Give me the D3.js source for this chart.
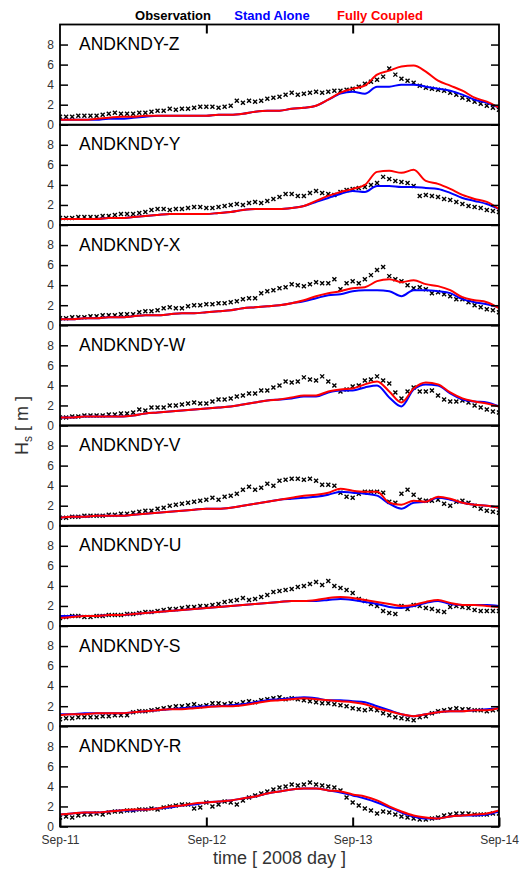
<!DOCTYPE html>
<html>
<head>
<meta charset="utf-8">
<script src="https://cdn.jsdelivr.net/npm/d3@7"></script>
<style>
  body { margin: 0; background: #fff; }
  text { font-family: "Liberation Sans", Arial, sans-serif; }
</style>
</head>
<body>
<div id="chart"></div>
<script>
// stations, top to bottom
const stations = ["Z", "Y", "X", "W", "V", "U", "S", "R"];
const yTicks = [0, 2, 4, 6, 8];
const xTickLabels = ["Sep-11", "Sep-12", "Sep-13", "Sep-14"];
const legendNames = ["Observation", "Stand Alone", "Fully Coupled"];

// observations: hourly, from Sep-11 00:00 to Sep-14 00:00
const obs_Z = [0.8,0.8,0.8,0.9,0.9,0.9, 0.9,1.0,1.1,1.2,1.1,1.1, 1.1,1.2,1.2,1.3,1.4,1.4, 1.6,1.5,1.6,1.6,1.7,1.8,
  1.8,1.8,1.7,1.8,1.9,2.4, 2.2,2.4,2.3,2.4,2.6,2.7, 2.8,3.0,3.2,3.0,3.1,3.2, 3.3,3.2,3.3,3.4,3.4,3.5,
  3.6,3.8,4.1,4.3,4.5,4.8, 5.6,5.0,4.6,4.4,4.2,3.9, 3.7,3.6,3.5,3.4,3.2,3.0, 2.7,2.5,2.3,2.1,1.9,1.7,1.5];
const obs_Y = [0.7,0.7,0.7,0.8,0.8,0.8, 0.8,0.9,0.9,1.0,1.1,1.1, 1.1,1.2,1.3,1.5,1.6,1.6, 1.5,1.6,1.6,1.7,1.8,1.8,
  1.7,1.7,1.8,1.9,2.0,2.1, 2.0,2.2,2.3,2.2,2.4,2.6, 2.8,3.1,3.1,2.9,2.9,3.2, 3.4,3.2,3.1,3.0,3.3,3.5,
  3.6,3.7,3.8,4.0,4.2,4.8, 4.6,4.4,4.3,4.2,3.9,2.9, 3.0,2.9,2.8,2.6,2.5,2.3, 2.1,1.9,1.8,1.7,1.5,1.4,1.3];
const obs_X = [0.7,0.7,0.8,0.8,0.8,0.9, 0.9,1.0,1.0,1.0,1.1,1.1, 1.1,1.3,1.4,1.4,1.5,1.7, 1.8,1.7,1.7,1.9,2.0,2.0,
  2.1,2.1,2.2,2.2,2.3,2.4, 2.6,2.7,2.7,3.2,3.4,3.5, 3.7,3.8,4.1,4.0,3.9,4.1, 4.3,4.2,4.2,4.6,3.6,4.2,
  4.4,4.2,4.6,5.0,5.5,5.8, 4.9,4.6,4.4,4.0,3.7,3.8, 3.6,3.2,3.3,3.1,2.9,2.6, 2.6,2.3,2.0,1.8,1.6,1.5,1.3];
const obs_W = [0.8,0.8,0.9,0.9,1.0,1.0, 1.0,1.0,1.1,1.1,1.2,1.2, 1.3,1.6,1.5,1.8,1.8,1.8, 2.0,2.0,2.1,2.2,2.3,2.2,
  2.2,2.4,2.6,2.6,2.7,2.9, 3.0,3.2,3.2,3.5,3.5,3.8, 4.0,4.4,4.3,4.4,4.8,4.6, 4.5,4.9,4.4,4.0,3.4,3.6,
  3.9,4.0,4.5,4.6,4.9,4.5, 4.2,3.3,2.7,3.4,3.8,3.4, 3.4,3.5,3.0,2.6,2.4,2.4, 2.5,2.3,2.0,1.8,1.6,1.4,1.3];
const obs_V = [0.8,0.8,0.9,0.9,1.0,1.0, 1.0,1.0,1.1,1.1,1.2,1.2, 1.3,1.4,1.5,1.5,1.7,1.8, 2.0,2.1,2.2,2.3,2.4,2.5,
  2.6,2.8,2.6,2.9,3.0,3.2, 3.6,3.9,3.6,3.8,4.2,4.0, 4.5,4.6,4.7,4.7,4.6,4.7, 4.5,4.1,4.1,4.0,3.3,2.9,
  2.8,3.2,3.4,3.4,3.4,3.3, 2.4,2.3,3.2,3.6,3.1,2.6, 2.5,2.5,2.6,2.2,2.0,2.4, 2.5,2.3,2.0,1.7,1.5,1.4,1.3];
const obs_U = [0.8,0.9,1.0,1.0,0.9,0.9, 1.0,1.0,1.1,1.1,1.1,1.2, 1.2,1.3,1.4,1.4,1.5,1.6, 1.7,1.7,1.8,1.9,1.9,2.0,
  2.0,2.1,2.2,2.4,2.5,2.6, 2.8,2.6,2.7,2.9,3.1,3.4, 3.5,3.6,3.7,3.9,4.0,4.2, 4.4,4.1,4.5,4.0,3.8,3.6,
  3.3,2.7,2.5,2.2,2.0,1.5, 1.3,1.2,2.0,1.7,2.1,2.0, 1.8,1.7,1.5,1.4,1.9,2.0, 1.9,1.8,1.6,1.5,1.5,1.5,1.5];
const obs_S = [0.7,0.8,0.8,0.9,0.9,0.9, 0.9,1.0,1.0,1.1,1.1,1.1, 1.4,1.5,1.5,1.6,1.7,1.8, 1.9,2.0,2.0,2.1,2.2,2.0,
  2.1,2.3,2.3,2.2,2.3,2.2, 2.4,2.5,2.4,2.6,2.7,2.8, 2.9,2.7,2.8,2.7,2.6,2.5, 2.4,2.3,2.3,2.2,2.1,2.0,
  1.8,1.7,1.6,1.7,1.6,1.3, 1.1,0.9,0.8,0.7,0.6,0.9, 1.0,1.3,1.5,1.6,1.7,1.8, 1.7,1.7,1.6,1.6,1.5,1.6,1.7];
const obs_R = [0.9,1.0,0.9,1.1,1.2,1.2, 1.3,1.2,1.4,1.5,1.5,1.6, 1.6,1.7,1.7,1.8,1.7,1.9, 2.0,2.1,2.2,2.2,1.8,1.9,
  2.4,2.0,2.2,2.5,2.4,2.2, 2.6,2.9,3.1,3.3,3.5,3.7, 3.9,4.0,4.2,4.1,4.2,4.4, 4.2,4.1,4.0,3.9,3.6,2.9,
  2.4,2.1,1.8,1.6,1.3,1.5, 1.4,1.2,1.0,0.9,0.8,0.7, 0.7,0.8,0.9,1.1,1.2,1.3, 1.3,1.3,1.2,1.2,1.2,1.3,1.3];

// model output: every 2 hours
const stand_Z = [0.5,0.5,0.5,0.5,0.6,0.6,0.7,0.8,0.9,0.9,0.9,0.9,0.9,1.0,1.0,1.1,1.3,1.4,1.4,1.6,1.7,1.9,2.5,3.1,3.3,3.1,3.8,3.8,4.0,4.0,3.8,3.6,3.4,3.0,2.5,2.2,1.7];
const full_Z  = [0.5,0.5,0.5,0.6,0.7,0.8,0.8,0.9,0.9,0.9,0.9,0.9,0.9,1.0,1.0,1.1,1.3,1.4,1.4,1.6,1.7,1.9,2.5,3.2,3.6,3.9,5.0,5.4,5.8,5.9,5.3,4.4,3.9,3.4,2.7,2.3,1.7];
const stand_Y = [0.6,0.6,0.6,0.6,0.7,0.7,0.8,0.9,1.0,1.1,1.1,1.1,1.1,1.2,1.3,1.5,1.6,1.6,1.6,1.7,1.9,2.3,2.7,3.1,3.4,3.3,3.9,3.9,3.8,3.8,3.7,3.6,3.2,2.7,2.4,2.1,1.6];
const full_Y  = [0.6,0.6,0.6,0.6,0.7,0.7,0.8,0.9,1.0,1.1,1.1,1.1,1.1,1.2,1.3,1.5,1.6,1.6,1.6,1.7,1.9,2.4,2.9,3.3,3.6,4.0,5.3,5.4,5.2,5.5,4.4,4.1,3.6,3.0,2.6,2.3,1.6];
const stand_X = [0.6,0.6,0.7,0.7,0.8,0.8,0.9,1.0,1.0,1.1,1.2,1.2,1.3,1.4,1.5,1.7,1.8,1.9,2.0,2.2,2.4,2.7,3.0,3.1,3.4,3.5,3.5,3.4,2.9,3.5,3.5,3.4,3.2,2.6,2.3,2.1,1.8];
const full_X  = [0.6,0.6,0.7,0.7,0.8,0.8,0.9,1.0,1.0,1.1,1.2,1.2,1.3,1.4,1.5,1.7,1.8,1.9,2.0,2.2,2.5,2.9,3.2,3.4,3.7,3.8,4.4,4.6,4.3,4.5,4.1,3.9,3.5,2.8,2.5,2.3,1.7];
const stand_W = [0.8,0.8,0.9,0.9,0.9,0.9,1.0,1.2,1.3,1.4,1.5,1.6,1.7,1.8,1.9,2.1,2.3,2.5,2.6,2.7,2.9,2.9,3.3,3.5,3.5,3.8,4.0,2.8,1.9,3.6,4.1,4.0,3.2,2.6,2.4,2.3,1.9];
const full_W  = [0.8,0.8,0.9,0.9,0.9,0.9,1.0,1.2,1.3,1.4,1.5,1.6,1.7,1.8,1.9,2.1,2.3,2.5,2.6,2.8,3.0,3.0,3.4,3.6,3.7,4.1,4.4,3.4,2.3,3.7,4.3,4.1,3.3,2.7,2.4,2.2,1.9];
const stand_V = [0.8,0.9,0.9,1.0,1.0,1.0,1.1,1.2,1.3,1.4,1.5,1.6,1.7,1.7,1.8,2.0,2.2,2.4,2.6,2.7,2.8,2.9,3.1,3.4,3.3,3.2,3.0,2.2,1.7,2.3,2.4,2.8,2.6,2.3,2.1,2.0,1.8];
const full_V  = [0.8,0.9,0.9,1.0,1.0,1.0,1.1,1.2,1.3,1.4,1.5,1.6,1.7,1.7,1.8,2.0,2.2,2.4,2.6,2.8,3.0,3.1,3.3,3.7,3.5,3.4,3.4,2.3,2.1,2.5,2.4,2.9,2.7,2.3,2.1,2.0,1.8];
const stand_U = [1.0,1.0,1.0,1.0,1.1,1.1,1.2,1.3,1.4,1.5,1.6,1.7,1.8,1.9,2.0,2.1,2.2,2.3,2.4,2.5,2.5,2.5,2.6,2.7,2.6,2.4,2.2,1.9,1.8,2.0,2.3,2.5,2.2,2.1,2.1,2.1,2.0];
const full_U  = [0.8,0.9,1.0,1.0,1.1,1.1,1.2,1.3,1.4,1.5,1.6,1.7,1.8,1.9,2.0,2.1,2.2,2.3,2.4,2.5,2.5,2.6,2.8,2.9,2.8,2.6,2.4,2.2,2.0,2.1,2.4,2.6,2.3,2.1,2.1,2.0,1.9];
const stand_S = [1.2,1.2,1.3,1.3,1.3,1.3,1.4,1.5,1.6,1.7,1.8,1.9,2.0,2.0,2.1,2.2,2.4,2.6,2.7,2.8,2.9,2.8,2.6,2.6,2.5,2.4,2.0,1.6,1.2,1.0,1.2,1.4,1.5,1.5,1.6,1.7,1.8];
const full_S  = [1.1,1.2,1.2,1.3,1.3,1.3,1.4,1.5,1.6,1.7,1.7,1.8,1.9,2.0,2.0,2.1,2.3,2.5,2.6,2.7,2.8,2.7,2.6,2.5,2.4,2.2,1.8,1.5,1.2,1.0,1.2,1.4,1.5,1.5,1.6,1.6,1.8];
const stand_R = [1.2,1.3,1.4,1.4,1.5,1.6,1.6,1.7,1.8,1.9,2.1,2.2,2.4,2.5,2.6,2.8,3.0,3.3,3.5,3.7,3.8,3.8,3.6,3.4,3.1,2.8,2.4,1.9,1.4,1.0,0.8,0.8,1.0,1.1,1.1,1.2,1.5];
const full_R  = [1.2,1.3,1.4,1.4,1.5,1.6,1.7,1.7,1.8,2.0,2.1,2.3,2.4,2.5,2.6,2.8,3.0,3.3,3.5,3.7,3.8,3.8,3.6,3.5,3.2,3.0,2.6,2.0,1.5,1.1,0.9,0.8,1.0,1.1,1.2,1.3,1.6];

const obsHours = d3.range(0, 73);
const modelHours = d3.range(0, 73, 2);

const table = {
  Z: [obs_Z, stand_Z, full_Z], Y: [obs_Y, stand_Y, full_Y], X: [obs_X, stand_X, full_X],
  W: [obs_W, stand_W, full_W], V: [obs_V, stand_V, full_V], U: [obs_U, stand_U, full_U],
  S: [obs_S, stand_S, full_S], R: [obs_R, stand_R, full_R]
};

const W = 521, H = 869;
const margin = {top: 24.5, left: 60, right: 22};
const width = W - margin.left - margin.right;
const panelH = 100.25;

const t0 = Date.UTC(2008, 8, 11);
const toDate = h => new Date(t0 + h * 3600e3);

const svg = d3.select("#chart").append("svg")
  .attr("width", W).attr("height", H);

const x = d3.scaleUtc()
  .domain([toDate(0), toDate(72)])
  .range([0, width]);
const y = d3.scaleLinear().domain([0, 10]).range([panelH, 0]);

const line = d3.line()
  .x(d => x(toDate(d[0])))
  .y(d => y(d[1]))
  .curve(d3.curveMonotoneX);

stations.forEach((st, i) => {
  const [ob, sa, fc] = table[st];
  const g = svg.append("g")
    .attr("transform", `translate(${margin.left},${margin.top + i * panelH})`);

  // clip to panel
  g.append("clipPath").attr("id", "clip" + st)
    .append("rect").attr("width", width).attr("height", panelH);
  const plot = g.append("g").attr("clip-path", `url(#clip${st})`);

  // observations as x markers
  plot.append("g").selectAll("path")
    .data(obsHours.map((h, k) => [h, ob[k]]))
    .join("path")
    .attr("d", d => {
      const cx = x(toDate(d[0])), cy = y(d[1]), s = 2;
      return `M${cx - s},${cy - s}L${cx + s},${cy + s}M${cx - s},${cy + s}L${cx + s},${cy - s}`;
    })
    .attr("stroke", "#000").attr("stroke-width", 1.4).attr("fill", "none");

  plot.append("path")
    .datum(modelHours.map((h, k) => [h, sa[k]]))
    .attr("d", line).attr("fill", "none")
    .attr("stroke", "#0000ff").attr("stroke-width", 2);

  plot.append("path")
    .datum(modelHours.map((h, k) => [h, fc[k]]))
    .attr("d", line).attr("fill", "none")
    .attr("stroke", "#ff0000").attr("stroke-width", 2);

  // y axis, ticks pointing inward
  const ya = g.append("g")
    .call(d3.axisLeft(y).tickValues(yTicks).tickSizeInner(-8).tickSizeOuter(0).tickPadding(6));
  ya.select(".domain").remove();
  ya.selectAll("line").attr("stroke", "#000").attr("stroke-width", 1.5);
  ya.selectAll("text").attr("fill", "#333").style("font-size", "12px");

  const yr = g.append("g").attr("transform", `translate(${width},0)`)
    .call(d3.axisRight(y).tickValues(yTicks).tickSizeInner(-8).tickSizeOuter(0).tickFormat(""));
  yr.select(".domain").remove();
  yr.selectAll("line").attr("stroke", "#000").attr("stroke-width", 1.5);

  if (i === 0) {
    const xt = g.append("g")
      .call(d3.axisTop(x).tickValues([toDate(24), toDate(48)]).tickSizeInner(-9).tickSizeOuter(0).tickFormat(""));
    xt.select(".domain").remove();
    xt.selectAll("line").attr("stroke", "#000").attr("stroke-width", 2);
  }
  if (i === stations.length - 1) {
    const xb = g.append("g").attr("transform", `translate(0,${panelH})`)
      .call(d3.axisBottom(x).tickValues([0, 24, 48, 72].map(toDate))
        .tickSizeInner(-9).tickSizeOuter(0).tickPadding(9)
        .tickFormat((d, k) => xTickLabels[k]));
    xb.select(".domain").remove();
    xb.selectAll("line").attr("stroke", "#000").attr("stroke-width", 2);
    xb.selectAll("text").attr("fill", "#333").style("font-size", "12px");
  }

  // panel border
  g.append("rect")
    .attr("width", width).attr("height", panelH)
    .attr("fill", "none").attr("stroke", "#000").attr("stroke-width", 1.8);

  g.append("text")
    .attr("x", 19).attr("y", 25.5)
    .style("font-size", "17.5px").attr("fill", "#000")
    .text("ANDKNDY-" + st);
});

// legend along the top
const legendX = [173, 272, 380];
const legendColor = ["#000", "#0000ff", "#ff0000"];
svg.append("g").selectAll("text")
  .data(legendNames)
  .join("text")
  .attr("x", (d, k) => legendX[k]).attr("y", 20)
  .attr("text-anchor", "middle")
  .style("font-size", "13px").style("font-weight", "bold")
  .attr("fill", (d, k) => legendColor[k])
  .text(d => d);

// axis titles
svg.append("text")
  .attr("x", margin.left + width / 2).attr("y", 864)
  .attr("text-anchor", "middle")
  .style("font-size", "18px").attr("fill", "#333")
  .text("time [ 2008 day ]");

const yt = svg.append("text")
  .attr("transform", `translate(28,${margin.top + 4 * panelH}) rotate(-90)`)
  .attr("text-anchor", "middle")
  .style("font-size", "18px").attr("fill", "#333");
yt.append("tspan").text("H");
yt.append("tspan").attr("dy", 4).style("font-size", "12px").text("s");
yt.append("tspan").attr("dy", -4).text(" [ m ]");
</script>
</body>
</html>
